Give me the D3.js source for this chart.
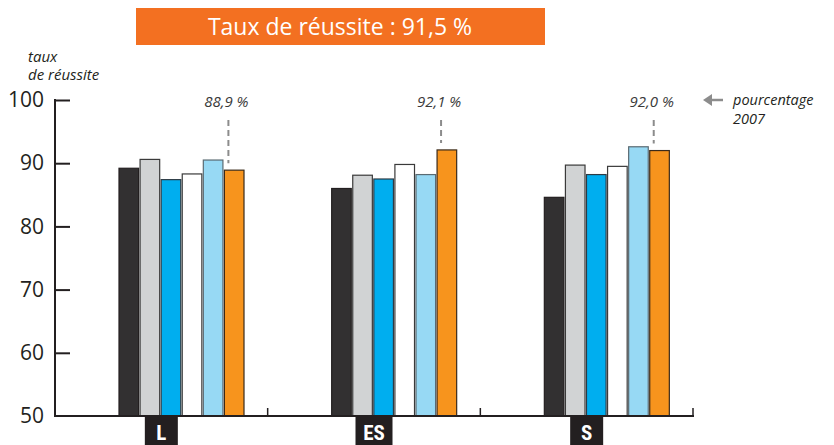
<!DOCTYPE html>
<html>
<head>
<meta charset="utf-8">
<script src="https://cdn.jsdelivr.net/npm/d3@7"></script>
<style>
	body { margin: 0; background: #fff; }
	text { font-family: "Open Sans", "Noto Sans", sans-serif; }
</style>
</head>
<body>
<svg id="chart" width="834" height="445"></svg>
<script>
// filières
let categories = ["L", "ES", "S"];

// 6 séries par filière, la dernière (orange) = pourcentage 2007
let seriesNames = ["s1", "s2", "s3", "s4", "s5", "s6"];
let seriesColors = ["#323031", "#d1d3d4", "#00aeef", "#ffffff", "#97d9f4", "#f7941d"];
let seriesStroke = ["#231f20", "#3a3a3a", "#2d3b45", "#3a3a3a", "#5a6a72", "#3a2a1a"];

let valuesL = [89.2, 90.6, 87.4, 88.3, 90.5, 88.9];
let valuesES = [86.0, 88.1, 87.5, 89.8, 88.2, 92.1];
let valuesS = [84.6, 89.7, 88.2, 89.5, 92.6, 92.0];
let allValues = [valuesL, valuesES, valuesS];

let labels2007 = ["88,9 %", "92,1 %", "92,0 %"];
let yTicks = [50, 60, 70, 80, 90, 100];

let titleText = "Taux de réussite : 91,5 %";

function drawChart()
{
	let svg = d3.select("#chart");

	let y = d3.scaleLinear().domain([50, 100]).range([416, 100]);

	let x = d3.scaleBand().domain(categories).range([55, 693]).padding(0);

	let xs = d3.scaleBand().domain(seriesNames).range([64, 189]).paddingInner(0.07);

	// titre
	svg.append("rect").attr("x", 136).attr("y", 8).attr("width", 409).attr("height", 37).attr("fill", "#f37021");
	svg.append("text").attr("x", 340).attr("y", 35).attr("text-anchor", "middle").style("font-size", "23px").style("fill", "#fff").text(titleText);

	// libellé axe y
	svg.append("text").attr("x", 28).attr("y", 62).style("font-size", "15px").style("font-style", "italic").style("fill", "#231f20").text("taux");
	svg.append("text").attr("x", 28).attr("y", 80).style("font-size", "15px").style("font-style", "italic").style("fill", "#231f20").text("de réussite");

	// barres
	let groups = svg.selectAll(".grp").data(allValues).enter().append("g").attr("class", "grp")
		.attr("transform", function(d, i) { return "translate(" + x(categories[i]) + ",0)"; });

	groups.selectAll("rect").data(function(d) { return d; }).enter().append("rect")
		.attr("x", function(d, j) { return xs(seriesNames[j]); })
		.attr("y", function(d) { return y(d); })
		.attr("width", xs.bandwidth())
		.attr("height", function(d) { return y(50) - y(d); })
		.attr("fill", function(d, j) { return seriesColors[j]; })
		.attr("stroke", function(d, j) { return seriesStroke[j]; })
		.attr("stroke-width", 1.2);

	// axe y
	let yAxis = d3.axisLeft(y).tickValues(yTicks).tickSize(-15).tickPadding(11).tickFormat(d3.format("d"));
	let gy = svg.append("g").attr("transform", "translate(55,0)").call(yAxis);
	gy.select(".domain").remove();
	gy.selectAll(".tick line").attr("stroke", "#231f20").attr("stroke-width", 2);
	gy.selectAll(".tick").filter(function(d) { return d === 50; }).select("line").remove();
	gy.selectAll(".tick text").style("font-size", "21px").style("fill", "#231f20").attr("font-family", "Open Sans");
	svg.append("line").attr("x1", 55).attr("x2", 55).attr("y1", y(100) - 1).attr("y2", y(50) + 1).attr("stroke", "#231f20").attr("stroke-width", 2);

	// axe x
	svg.append("line").attr("x1", 54).attr("x2", 694).attr("y1", y(50)).attr("y2", y(50)).attr("stroke", "#231f20").attr("stroke-width", 2);
	categories.forEach(function(c) {
		let xe = x(c) + x.bandwidth();
		svg.append("line").attr("x1", xe).attr("x2", xe).attr("y1", y(50)).attr("y2", y(50) - 8).attr("stroke", "#231f20").attr("stroke-width", 1.5);
	});

	// étiquettes catégories
	categories.forEach(function(c) {
		let cx = x(c) + x.bandwidth() / 2;
		let w = c.length > 1 ? 37 : 33;
		svg.append("rect").attr("x", cx - w / 2).attr("y", 417).attr("width", w).attr("height", 28).attr("fill", "#231f20");
		svg.append("text").attr("x", cx).attr("y", 440).attr("text-anchor", "middle").style("font-size", "21px").style("font-weight", "bold").style("fill", "#fff")
			.style("font-family", "Roboto, sans-serif").style("font-stretch", "condensed").text(c);
	});

	// pourcentages 2007
	allValues.forEach(function(vals, i) {
		let bx = x(categories[i]) + xs(seriesNames[5]);
		let lx = bx + 4;
		svg.append("line").attr("x1", lx).attr("x2", lx).attr("y1", 120).attr("y2", y(vals[5]) - 7)
			.attr("stroke", "#8c8c8c").attr("stroke-width", 2).attr("stroke-dasharray", "6,4");
		svg.append("text").attr("x", lx - 2).attr("y", 107).attr("text-anchor", "middle").style("font-size", "15px").style("font-style", "italic").style("fill", "#3a3a3a").text(labels2007[i]);
	});

	// légende flèche
	svg.append("line").attr("x1", 709).attr("x2", 723).attr("y1", 100).attr("y2", 100).attr("stroke", "#8c8c8c").attr("stroke-width", 2.5);
	svg.append("path").attr("d", "M703,100 L712,94 L712,106 Z").attr("fill", "#8c8c8c");
	svg.append("text").attr("x", 733).attr("y", 105).style("font-size", "14.5px").style("font-style", "italic").style("fill", "#231f20").text("pourcentage");
	svg.append("text").attr("x", 733).attr("y", 124).style("font-size", "14.5px").style("font-style", "italic").style("fill", "#231f20").text("2007");
}

drawChart();
</script>
</body>
</html>
